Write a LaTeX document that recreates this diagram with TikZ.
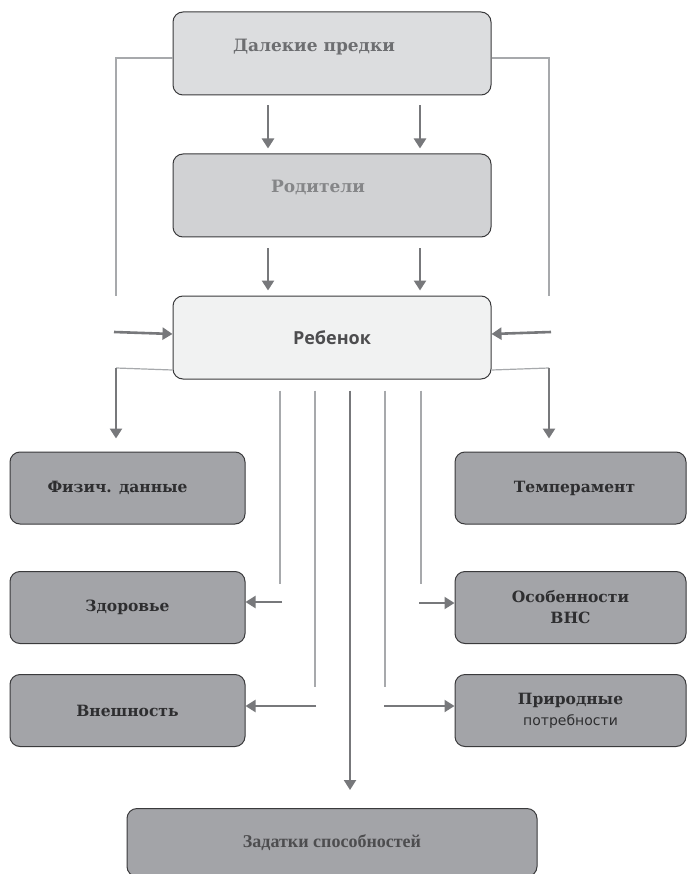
\documentclass[tikz,border=0pt]{standalone}
\usepackage{fontspec}
\setmainfont{DejaVu Serif}
\newfontfamily\opensans{Open Sans}
\newfontfamily\libserif{Liberation Serif}
\newfontfamily\djsans{DejaVu Sans}
\usetikzlibrary{arrows.meta, positioning}
\definecolor{cFar}{HTML}{DCDDDF}
\definecolor{cFarTxt}{HTML}{6D6E71}
\definecolor{cPar}{HTML}{D1D2D4}
\definecolor{cParTxt}{HTML}{858688}
\definecolor{cChild}{HTML}{F1F2F2}
\definecolor{cChildTxt}{HTML}{4D4D4F}
\definecolor{cLow}{HTML}{A3A4A8}
\definecolor{cLowTxt}{HTML}{2E2E30}
\definecolor{cEdge}{HTML}{3A3A3C}
\definecolor{cArrow}{HTML}{77787B}
\definecolor{cThin}{HTML}{A7A9AC}
\tikzset{
  box/.style={
    rectangle, rounded corners=10pt, draw=cEdge, line width=1pt, fill=#1,
    minimum width=318pt, minimum height=83pt, align=center, inner sep=0pt
  },
  lbox/.style={box=cLow, minimum width=235pt, minimum height=72pt,
    text=cLowTxt, font=\bfseries\fontsize{15.5}{21}\selectfont},
  rbox/.style={lbox, minimum width=231pt},
  arrow/.style={-{Triangle[length=10pt, width=12pt]}, line width=2.6pt, cArrow},
  thin/.style={line width=1.2pt, cThin},
}

\begin{document}
\begin{tikzpicture}[x=1pt, y=-1pt]
  \useasboundingbox[fill=white] (0,0) rectangle (686,874);

  % generations
  \node[box=cFar, label={[anchor=center, xshift=-18pt, yshift=-36pt,
        text=cFarTxt, font=\bfseries\fontsize{17}{20}\selectfont]90:Далекие предки}]
    (far) at (332,53.5) {};
  \node[box=cPar, below=58pt of far,
        label={[anchor=center, xshift=-14pt, yshift=-34pt,
        text=cParTxt, font=\bfseries\fontsize{17}{20}\selectfont]90:Родители}]
    (par) {};
  \node[box=cChild, below=58pt of par, text=cChildTxt,
        font=\opensans\bfseries\fontsize{18}{20}\selectfont] (child)
    {\raisebox{-4.5pt}{Ребенок}};

  % inherited traits
  \node[lbox] (phys)   at (127.5,488)   {\hspace*{-20pt}Физич. данные};
  \node[lbox] (health) at (127.5,607.5) {Здоровье};
  \node[lbox] (looks)  at (127.5,710.5) {Внешность};
  \node[rbox] (temper) at (570.5,488)   {\hspace*{8pt}Темперамент};
  \node[rbox] (ans)    at (570.5,607.5) {Особенности\\ВНС};
  \node[rbox] (needs)  at (570.5,710.5)
    {Природные\\{\djsans\mdseries\fontsize{14}{18}\selectfont потребности}};
  \node[box=cLow, minimum width=410pt, minimum height=68pt, anchor=north,
        text=cChildTxt, font=\libserif\bfseries\fontsize{18}{20}\selectfont]
    (gifts) at (332,808) {Задатки способностей};

  % free ends
  \coordinate (lt) at (116,296);
  \coordinate (rt) at (549,296);
  \coordinate (lf) at (114,332);
  \coordinate (rf) at (551,332);
  \coordinate (lo) at (116,368);
  \coordinate (ro) at (549,368);
  \coordinate (e1) at (280,584);
  \coordinate (e2) at (315,687);
  \coordinate (e4) at (385,687);
  \coordinate (e5) at (421,584);
  \coordinate (s1) at (282,602);
  \coordinate (s2) at (316,706);
  \coordinate (s4) at (384,706);
  \coordinate (s5) at (419,603);

  % ancestors reach the child directly
  \draw[thin] ([yshift=-4.5pt]far.west) -| (lt);
  \draw[thin] ([yshift=-4.5pt]far.east) -| (rt);
  \draw[arrow] (lf) -- ([yshift=3.5pt]child.west);
  \draw[arrow] (rf) -- ([yshift=3.5pt]child.east);

  % down the line
  \foreach \dx in {-64,88} {
    \draw[arrow] ([xshift=\dx pt, yshift=-10pt]far.south)
      -- ([xshift=\dx pt, yshift=5pt]par.north);
    \draw[arrow] ([xshift=\dx pt, yshift=-11pt]par.south)
      -- ([xshift=\dx pt, yshift=5pt]child.north);
  }

  % child to traits
  \draw[thin] ([yshift=-32.5pt]child.west) -- (lo);
  \draw[thin] ([yshift=-32.5pt]child.east) -- (ro);
  \draw[arrow] (lo) -- ([yshift=13pt]lo |- phys.north);
  \draw[arrow] (ro) -- ([yshift=13pt]ro |- temper.north);

  \draw[thin] ([xshift=-52pt, yshift=-11pt]child.south) -- (e1);
  \draw[thin] ([xshift=-17pt, yshift=-11pt]child.south) -- (e2);
  \draw[thin] ([xshift=53pt, yshift=-11pt]child.south) -- (e4);
  \draw[thin] ([xshift=89pt, yshift=-11pt]child.south) -- (e5);
  \draw[arrow, line width=2.2pt] ([xshift=18pt, yshift=-11pt]child.south)
    -- ([xshift=18pt, yshift=18pt]gifts.north);

  \draw[arrow, line width=2pt] (s1) -- ([yshift=5.5pt]health.east);
  \draw[arrow, line width=2pt] (s2) -- ([yshift=4.5pt]looks.east);
  \draw[arrow, line width=2pt] (s5) -- ([yshift=4.5pt]ans.west);
  \draw[arrow, line width=2pt] (s4) -- ([yshift=4.5pt]needs.west);

\end{tikzpicture}
\end{document}
